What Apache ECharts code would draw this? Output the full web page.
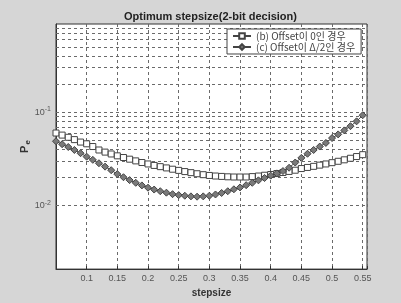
<!DOCTYPE html>
<html>
<head>
    <meta charset="UTF-8">
    <title>Optimum stepsize</title>
    <script src="https://cdn.jsdelivr.net/npm/echarts@6/dist/echarts.min.js"></script>
    <style>
        body { margin: 0; background: #d6d6d6; }
    </style>
</head>
<body>
<div id="main" style="width: 401px;height:303px;"></div>

<script type="text/javascript">
    // stepsize 0.05 .. 0.55, step 0.01
    var stepsize = [0.05, 0.06, 0.07, 0.08, 0.09, 0.10, 0.11, 0.12, 0.13, 0.14,
        0.15, 0.16, 0.17, 0.18, 0.19, 0.20, 0.21, 0.22, 0.23, 0.24,
        0.25, 0.26, 0.27, 0.28, 0.29, 0.30, 0.31, 0.32, 0.33, 0.34,
        0.35, 0.36, 0.37, 0.38, 0.39, 0.40, 0.41, 0.42, 0.43, 0.44,
        0.45, 0.46, 0.47, 0.48, 0.49, 0.50, 0.51, 0.52, 0.53, 0.54, 0.55];

    // (b) Offset이 0인 경우
    var peOffset0 = [0.060, 0.057, 0.054, 0.051, 0.048, 0.046, 0.043, 0.0395, 0.0375, 0.0358,
        0.0342, 0.0328, 0.0315, 0.0302, 0.0290, 0.0280, 0.0270, 0.0262, 0.0254, 0.0246,
        0.0239, 0.0232, 0.0226, 0.0220, 0.0215, 0.0211, 0.0208, 0.0206, 0.0204, 0.0203,
        0.0203, 0.0203, 0.0205, 0.0208, 0.0212, 0.0216, 0.0221, 0.0227, 0.0233, 0.0240,
        0.0250, 0.0257, 0.0264, 0.0272, 0.0280, 0.0289, 0.0299, 0.0310, 0.0322, 0.0336, 0.0352];

    // (c) Offset이 Δ/2인 경우
    var peOffsetHalf = [0.049, 0.0455, 0.0425, 0.0395, 0.0365, 0.0335, 0.0310, 0.0285, 0.0262, 0.0240,
        0.0218, 0.0202, 0.0188, 0.0176, 0.0165, 0.0156, 0.0149, 0.0143, 0.0138, 0.0133,
        0.0130, 0.0128, 0.0126, 0.0125, 0.0126, 0.0128, 0.0132, 0.0137, 0.0143, 0.0150,
        0.0157, 0.0166, 0.0176, 0.0187, 0.0198, 0.0210, 0.0222, 0.0235, 0.0255, 0.0290,
        0.0325, 0.0360, 0.0395, 0.0430, 0.0470, 0.0530, 0.0580, 0.0640, 0.0710, 0.0800, 0.0930];

    // 로그 보조 눈금선 (2..9 x 10^k)
    var yGridValues = [0.003, 0.004, 0.005, 0.006, 0.007, 0.008, 0.009,
        0.01, 0.02, 0.03, 0.04, 0.05, 0.06, 0.07, 0.08, 0.09,
        0.1, 0.2, 0.3, 0.4, 0.5, 0.6, 0.7, 0.8];

    var seriesNames = ['(b) Offset이 0인 경우', '(c) Offset이 Δ/2인 경우'];

    function pairs(xs, ys) {
        return xs.map(function (x, i) { return [x, ys[i]]; });
    }

    var gridDash = {color: '#6a6a6a', width: 1, type: [3, 3]};

    var myChart = echarts.init(document.getElementById('main'), null, {renderer: 'canvas'});

    var option = {
        backgroundColor: '#d6d6d6',
        animation: false,
        textStyle: {fontFamily: 'Liberation Sans, Arial, sans-serif'},
        title: {
            text: 'Optimum stepsize(2-bit decision)',
            left: 119,
            top: 6,
            textStyle: {fontSize: 11, fontWeight: 'bold', color: '#222'}
        },
        legend: {
            orient: 'vertical',
            left: 227,
            top: 29,
            data: seriesNames,
            itemWidth: 18,
            itemHeight: 7,
            itemGap: 1,
            padding: [2, 6, 2, 5],
            backgroundColor: '#fff',
            borderColor: '#444',
            borderWidth: 1,
            borderRadius: 0,
            textStyle: {fontSize: 10, color: '#444', fontFamily: 'Noto Sans CJK KR, sans-serif'}
        },
        grid: {
            left: 56,
            top: 24,
            right: 34,
            bottom: 33,
            show: true,
            backgroundColor: '#fff',
            borderColor: '#333',
            borderWidth: 1
        },
        xAxis: {
            type: 'value',
            min: 0.05,
            max: 0.557,
            interval: 0.05,
            name: 'stepsize',
            nameLocation: 'middle',
            nameGap: 18,
            nameTextStyle: {fontSize: 10, fontWeight: 'bold', color: '#333'},
            axisLine: {show: true, lineStyle: {color: '#333'}},
            axisTick: {show: true, inside: true, length: 3, lineStyle: {color: '#333'}},
            axisLabel: {
                fontSize: 9,
                color: '#555',
                margin: 5,
                showMinLabel: false,
                showMaxLabel: true,
                formatter: function (v) {
                    var r = Math.round(v * 100) / 100;
                    if (r < 0.09 || Math.abs(v - r) > 1e-6 || Math.round(r * 100) % 5 !== 0) return '';
                    return String(r);
                }
            },
            splitLine: {show: true, lineStyle: gridDash}
        },
        yAxis: {
            type: 'log',
            logBase: 10,
            min: 0.0021,
            max: 0.88,
            name: '{p|P}{e|e}',
            nameLocation: 'middle',
            nameGap: 24,
            nameMoveOverlap: false,
            nameTextStyle: {
                rich: {
                    p: {fontSize: 11, fontWeight: 'bold', color: '#333'},
                    e: {fontSize: 8, fontWeight: 'bold', color: '#333', padding: [6, 0, 0, 1]}
                }
            },
            axisLine: {show: true, lineStyle: {color: '#333'}},
            axisTick: {show: false},
            axisLabel: {
                margin: 5,
                color: '#555',
                formatter: function (v) {
                    var e = Math.log10(v);
                    if (Math.abs(e - Math.round(e)) > 1e-6) return '';
                    return '{b|10}{s|' + Math.round(e) + '}';
                },
                rich: {
                    b: {fontSize: 9, color: '#555'},
                    s: {fontSize: 7, color: '#555', padding: [0, 0, 6, 0]}
                }
            },
            splitLine: {show: false}
        },
        series: [
            {
                name: seriesNames[0],
                type: 'line',
                data: pairs(stepsize, peOffset0),
                symbol: 'rect',
                symbolSize: 6,
                showAllSymbol: true,
                lineStyle: {color: '#444', width: 1},
                itemStyle: {color: '#fff', borderColor: '#444', borderWidth: 1},
                z: 3,
                markLine: {
                    silent: true,
                    symbol: 'none',
                    label: {show: false},
                    lineStyle: gridDash,
                    z: 1,
                    data: yGridValues.map(function (v) { return {yAxis: v}; })
                }
            },
            {
                name: seriesNames[1],
                type: 'line',
                data: pairs(stepsize, peOffsetHalf),
                symbol: 'diamond',
                symbolSize: 7,
                showAllSymbol: true,
                lineStyle: {color: '#444', width: 1},
                itemStyle: {color: '#7a7a7a', borderColor: '#444', borderWidth: 1},
                z: 4
            }
        ]
    };

    myChart.setOption(option);
</script>
</body>
</html>
